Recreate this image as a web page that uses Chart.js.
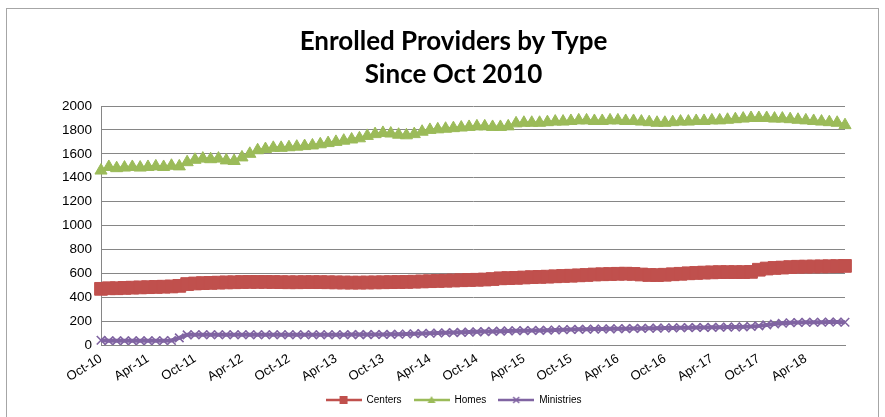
<!DOCTYPE html>
<html>
<head>
<meta charset="utf-8">
<script src="https://cdn.jsdelivr.net/npm/chart.js@4"></script>
<style>
  html, body { margin: 0; padding: 0; background: #fff; }
  #wrap { width: 885px; height: 417px; position: relative; }
</style>
</head>
<body>
<div id="wrap"><canvas id="grafico" width="885" height="417"></canvas></div>
<script>
const mesesCortos = ["Jan", "Feb", "Mar", "Apr", "May", "Jun", "Jul", "Aug", "Sep", "Oct", "Nov", "Dec"];

// Oct-10 .. Sep-18, one per month
const meses = [];
for (let i = 0; i < 96; i++) {
  const m = (9 + i) % 12;
  const y = 10 + Math.floor((9 + i) / 12);
  meses.push(mesesCortos[m] + "-" + y);
}

const centers = [
  470, 475, 475, 478, 480, 482, 484, 486, 488, 490, 495, 510,
  515, 518, 520, 522, 524, 525, 527, 528, 528, 528, 527, 526,
  525, 525, 526, 526, 526, 525, 524, 523, 522, 522, 523, 524,
  525, 526, 527, 528, 530, 532, 534, 536, 538, 540, 542, 544,
  546, 548, 552, 558, 560, 562, 565, 568, 570, 572, 575, 578,
  580, 583, 586, 590, 592, 594, 596, 597, 595, 590, 586, 585,
  588, 592, 596, 600, 603, 606, 608, 610, 610, 610, 610, 612,
  630, 640, 645, 648, 652, 655, 656, 657, 658, 659, 660, 662
];

const homes = [
  1460, 1490, 1480, 1485, 1490, 1485, 1490, 1495, 1490, 1500, 1495, 1530,
  1550, 1560, 1555, 1560, 1545, 1540, 1570, 1600, 1630, 1640, 1650, 1650,
  1655, 1660, 1665, 1670, 1680, 1690, 1700, 1710, 1720, 1730, 1750, 1765,
  1775, 1770, 1760, 1755, 1765, 1785, 1800, 1805, 1810, 1815, 1820, 1825,
  1830, 1830, 1825, 1825, 1830, 1855, 1860, 1860, 1860, 1865, 1870, 1870,
  1875, 1880, 1880, 1875, 1875, 1880, 1880, 1875, 1875, 1870, 1865, 1860,
  1860, 1865, 1870, 1870, 1875, 1875, 1880, 1880, 1885, 1890, 1895, 1900,
  1900, 1900, 1895, 1895, 1890, 1885, 1880, 1875, 1870, 1865, 1860, 1840
];

const ministries = [
  40, 35, 35, 35, 35, 35, 35, 36, 36, 38, 60, 85,
  86, 86, 86, 86, 86, 86, 86, 86, 86, 86, 86, 86,
  86, 86, 86, 86, 86, 86, 86, 86, 87, 87, 87, 88,
  88, 89, 90, 92, 94, 96, 98, 100, 102, 104, 106, 108,
  110, 112, 114, 116, 118, 119, 120, 121, 122, 124, 126, 128,
  130, 131, 132, 133, 134, 135, 136, 137, 138, 139, 140, 141,
  142, 143, 144, 145, 146, 147, 148, 149, 150, 151, 152, 155,
  160, 168, 176, 182, 186, 188, 190, 190, 190, 192, 192, 190
];

const yTicks = [0, 200, 400, 600, 800, 1000, 1200, 1400, 1600, 1800, 2000];

const colores = { centers: "#C0504D", homes: "#9BBB59", ministries: "#8064A2" };
const fuenteEje = "'Liberation Sans', Arial, sans-serif";

// small line+marker swatch for the legend, like Excel
function muestra(color, tipo) {
  const c = document.createElement("canvas");
  c.width = 36; c.height = 10;
  const g = c.getContext("2d");
  g.strokeStyle = color; g.fillStyle = color; g.lineWidth = 2.5;
  g.beginPath(); g.moveTo(0, 5); g.lineTo(36, 5); g.stroke();
  if (tipo === "rect") g.fillRect(14, 1, 8, 8);
  if (tipo === "triangle") { g.beginPath(); g.moveTo(18, 1); g.lineTo(22, 8); g.lineTo(14, 8); g.closePath(); g.fill(); }
  if (tipo === "crossRot") { g.lineWidth = 1.5; g.beginPath(); g.moveTo(15, 2); g.lineTo(21, 8); g.moveTo(21, 2); g.lineTo(15, 8); g.stroke(); }
  return c;
}

const marco = {
  id: "marco",
  beforeDraw(chart) {
    const ctx = chart.ctx;
    ctx.save();
    ctx.fillStyle = "#fff";
    ctx.fillRect(0, 0, chart.width, chart.height);
    ctx.strokeStyle = "#A6A6A6";
    ctx.lineWidth = 1;
    ctx.strokeRect(6.5, 8.5, 872, 430);
    ctx.restore();
  }
};

const config = {
  type: "line",
  data: {
    labels: meses,
    datasets: [
      {
        label: "Centers", data: centers,
        borderColor: colores.centers, backgroundColor: colores.centers,
        borderWidth: 3, pointStyle: "rect", pointRadius: 9,
        pointBorderWidth: 1, tension: 0
      },
      {
        label: "Homes", data: homes,
        borderColor: colores.homes, backgroundColor: colores.homes,
        borderWidth: 3, pointStyle: "triangle", pointRadius: 7,
        pointBorderWidth: 1, tension: 0
      },
      {
        label: "Ministries", data: ministries,
        borderColor: colores.ministries, backgroundColor: colores.ministries,
        borderWidth: 4, pointStyle: "crossRot", pointRadius: 6,
        pointBorderWidth: 1.6, tension: 0
      }
    ]
  },
  options: {
    responsive: false,
    animation: false,
    layout: { padding: { left: 62, right: 40, top: 0, bottom: 2 } },
    plugins: {
      title: {
        display: true,
        text: ["Enrolled Providers by Type", "Since Oct 2010"],
        color: "#000",
        font: { family: "Lato, 'Open Sans', sans-serif", size: 26, weight: "bold", lineHeight: 1.27 },
        padding: { top: 25, bottom: 15 }
      },
      legend: {
        position: "bottom",
        labels: {
          usePointStyle: true,
          pointStyleWidth: 36,
          color: "#333",
          font: { family: fuenteEje, size: 10 },
          boxHeight: 10,
          padding: 12,
          generateLabels(chart) {
            const tipos = ["rect", "triangle", "crossRot"];
            return chart.data.datasets.map((ds, i) => ({
              text: ds.label,
              pointStyle: muestra(ds.borderColor, tipos[i]),
              fillStyle: ds.borderColor,
              strokeStyle: ds.borderColor,
              lineWidth: 0,
              datasetIndex: i,
              hidden: false
            }));
          }
        }
      },
      tooltip: { enabled: false }
    },
    scales: {
      x: {
        offset: false,
        afterFit(scale) { scale.height = 38; },
        grid: { display: false, drawTicks: false },
        border: { display: true, color: "#868686", width: 1 },
        ticks: {
          autoSkip: false,
          minRotation: 32, maxRotation: 32,
          padding: 6,
          color: "#000",
          font: { family: fuenteEje, size: 13 },
          callback(value, index) {
            return index % 6 === 0 ? meses[index] : "";
          }
        }
      },
      y: {
        min: 0, max: 2000,
        afterBuildTicks(scale) { scale.ticks = yTicks.map((v) => ({ value: v })); },
        afterFit(scale) { scale.width = 39; },
        grid: { color: "#868686", lineWidth: 1, drawTicks: false },
        border: { display: true, color: "#868686", width: 1 },
        ticks: {
          padding: 9,
          color: "#000",
          font: { family: fuenteEje, size: 13.5 },
          callback(value) { return String(value); }
        }
      }
    }
  },
  plugins: [marco]
};

new Chart(document.getElementById("grafico"), config);
</script>
</body>
</html>
